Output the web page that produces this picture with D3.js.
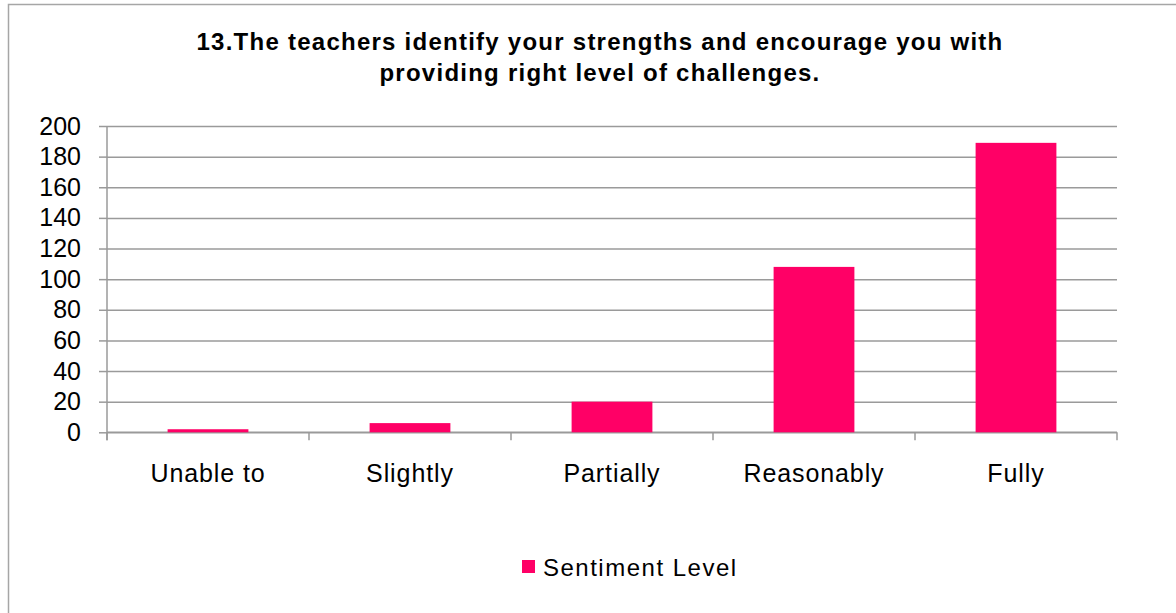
<!DOCTYPE html>
<html>
<head>
<meta charset="utf-8">
<script src="https://d3js.org/d3.v7.min.js"></script>
<style>
  body { margin: 0; background: #fff; }
  svg text { font-family: "Liberation Sans", Arial, sans-serif; fill: #000; }
  .grid line { stroke: #9a9a9a; stroke-width: 1.5; }
  .grid path { display: none; }
  .y-axis path, .y-axis line, .x-axis path, .x-axis line { stroke: #9a9a9a; stroke-width: 1.5; }
  .y-axis text, .x-axis text { font-size: 25px; }
  .x-axis text { letter-spacing: 0.9px; }
</style>
</head>
<body>
<script>
// chart data
var categories = ["Unable to", "Slightly", "Partially", "Reasonably", "Fully"];
var values = [2, 6, 20, 108, 189];
var yTicks = [0, 20, 40, 60, 80, 100, 120, 140, 160, 180, 200];
var seriesName = "Sentiment Level";
var titleLines = ["13.The teachers identify your strengths and encourage you with",
                  "providing right level of challenges."];

var W = 1176, H = 613;
var m = {top: 126, left: 107, right: 59, bottom: 181};
var w = W - m.left - m.right, h = 432.3 - m.top;

var svg = d3.select("body").append("svg")
  .attr("width", W).attr("height", H);

// outer chart border (runs off the right and bottom edge)
svg.append("rect")
  .attr("x", 8.5).attr("y", 4.5)
  .attr("width", W + 20).attr("height", H + 20)
  .attr("fill", "none").attr("stroke", "#a6a6a6").attr("stroke-width", 1.5);

// title
svg.append("g").selectAll("text")
  .data(titleLines)
  .enter().append("text")
  .attr("x", 600)
  .attr("y", (d, i) => 50 + i * 31)
  .attr("text-anchor", "middle")
  .style("font-size", "24px")
  .style("font-weight", "bold")
  .style("letter-spacing", "1.25px")
  .text(d => d);

var g = svg.append("g").attr("transform", `translate(${m.left},${m.top})`);

var x = d3.scaleBand().domain(categories).range([0, w]);
var xBar = d3.scaleBand().domain(categories).range([0, w])
  .paddingInner(0.6).paddingOuter(0.3);
var y = d3.scaleLinear().domain([0, 200]).range([h, 0]);

// gridlines
g.append("g").attr("class", "grid")
  .call(d3.axisLeft(y).tickValues(yTicks).tickSize(-w).tickFormat(""));

// y axis
g.append("g").attr("class", "y-axis")
  .call(d3.axisLeft(y).tickValues(yTicks).tickSize(8).tickPadding(18).tickSizeOuter(0))
  .select(".domain").attr("d", `M0,0V${h + 8}`);

// x axis: ticks between categories
var xa = g.append("g").attr("class", "x-axis")
  .attr("transform", `translate(0,${h})`);
xa.append("line").attr("x1", 0).attr("x2", w).attr("y1", 0).attr("y2", 0);
xa.selectAll(".tk")
  .data(categories.concat([null]))
  .enter().append("line")
  .attr("class", "tk")
  .attr("x1", (d, i) => i * x.step()).attr("x2", (d, i) => i * x.step())
  .attr("y1", 0).attr("y2", 8);
xa.selectAll(".lbl")
  .data(categories)
  .enter().append("text")
  .attr("class", "lbl")
  .attr("x", d => x(d) + x.bandwidth() / 2)
  .attr("y", 49.4)
  .attr("text-anchor", "middle")
  .text(d => d);

// bars
g.selectAll(".bar")
  .data(values)
  .enter().append("rect")
  .attr("class", "bar")
  .attr("x", (d, i) => xBar(categories[i]))
  .attr("width", xBar.bandwidth())
  .attr("y", d => y(d))
  .attr("height", d => h - y(d))
  .attr("fill", "#ff0066");

// legend
var lg = svg.append("g").attr("transform", "translate(522,560)");
lg.append("rect").attr("width", 13).attr("height", 13).attr("fill", "#ff0066");
lg.append("text").attr("x", 21).attr("y", 15.7)
  .style("font-size", "24px")
  .style("letter-spacing", "1.5px")
  .text(seriesName);
</script>
</body>
</html>
